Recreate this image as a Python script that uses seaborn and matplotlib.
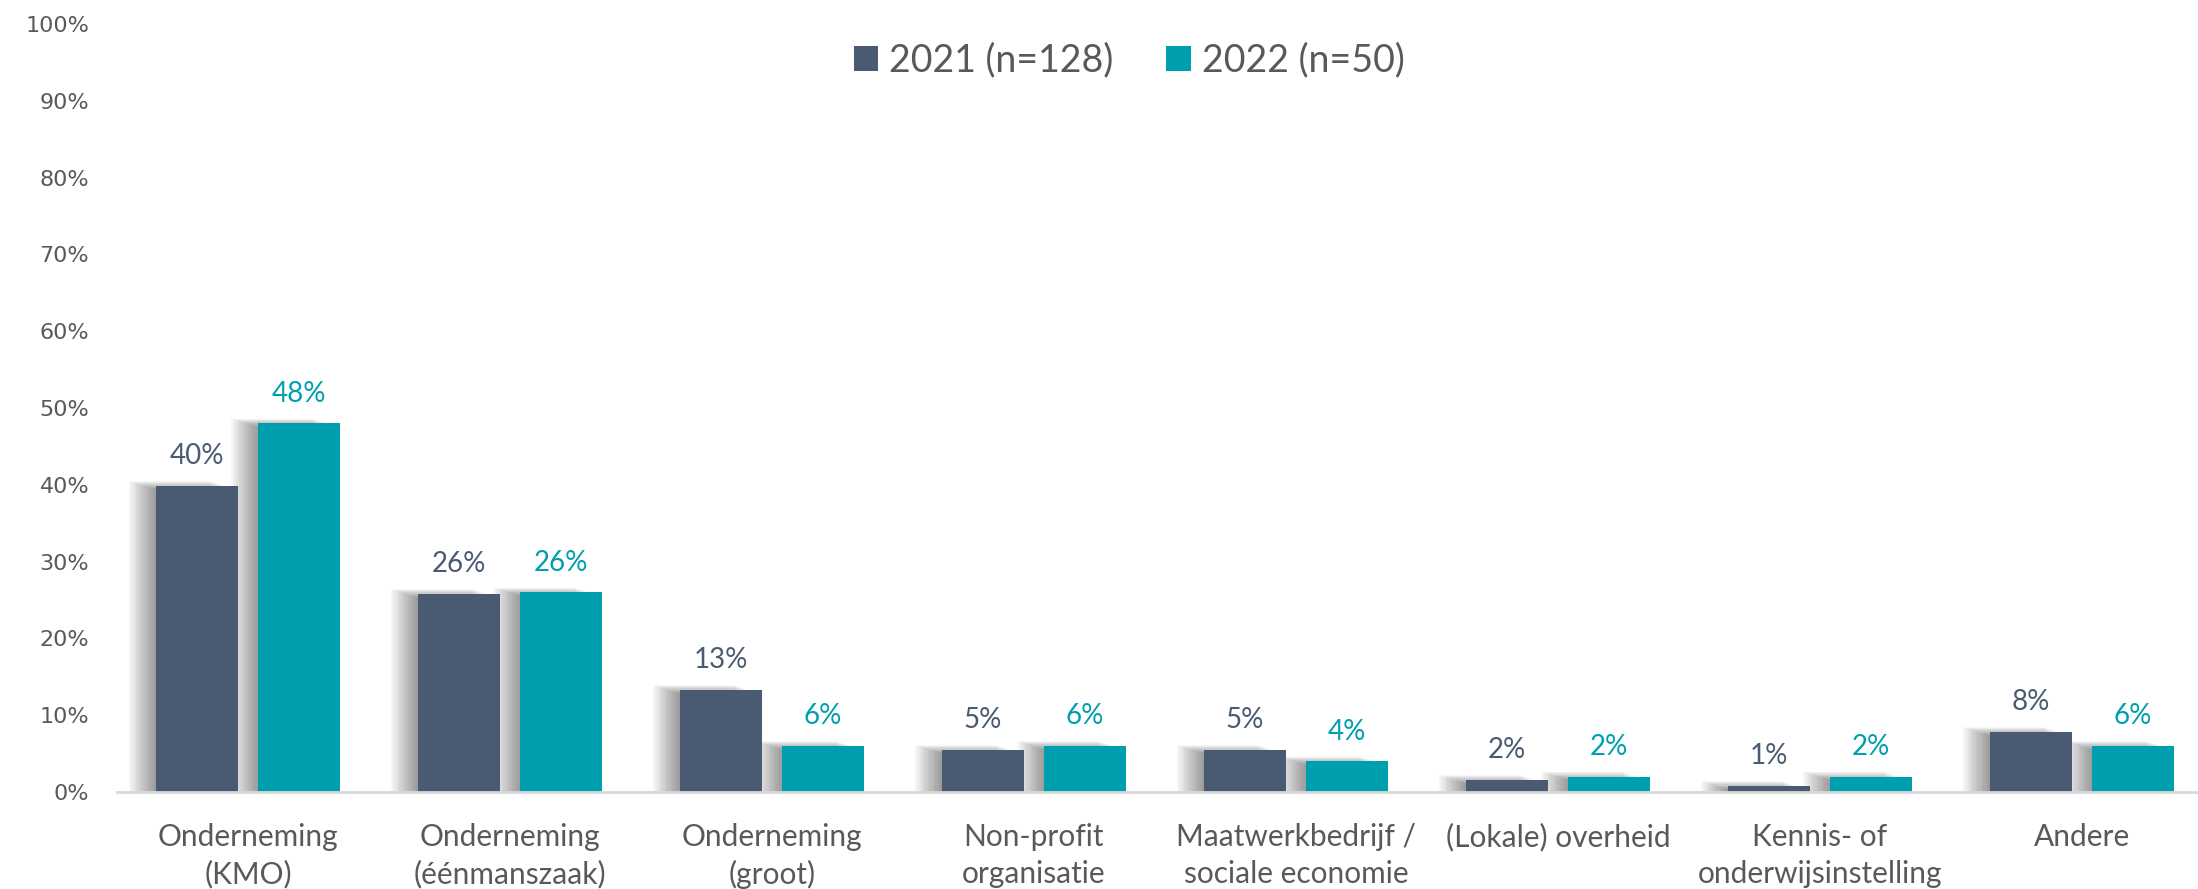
import matplotlib
matplotlib.use("Agg")
import matplotlib.pyplot as plt
from matplotlib.patches import Rectangle
from matplotlib.ticker import FuncFormatter
import seaborn as sns
import pandas as pd

# data (percentages)
categories = ["Onderneming\n(KMO)", "Onderneming\n(éénmanszaak)", "Onderneming\n(groot)",
              "Non-profit\norganisatie", "Maatwerkbedrijf /\nsociale economie",
              "(Lokale) overheid", "Kennis- of\nonderwijsinstelling", "Andere"]
pct_2021 = [39.84, 25.78, 13.28, 5.47, 5.47, 1.56, 0.78, 7.81]
pct_2022 = [48, 26, 6, 6, 4, 2, 2, 6]
series = ["2021 (n=128)", "2022 (n=50)"]
colors = ["#4A5A72", "#009FB0"]

df = pd.DataFrame({
    "cat": categories * 2,
    "pct": pct_2021 + pct_2022,
    "jaar": [series[0]] * len(categories) + [series[1]] * len(categories),
})

sns.set_style("white")
plt.rcParams["font.family"] = ["Lato", "DejaVu Sans"]

fig = plt.figure(figsize=(21.98, 8.89), dpi=100)
ax = fig.add_axes([117 / 2198, 1 - 792 / 889, 2096 / 2198, (792 - 24) / 889])

sns.barplot(data=df, x="cat", y="pct", hue="jaar", palette=colors, width=0.78, gap=0.2,
            saturation=1, ax=ax, zorder=3, legend=True, linewidth=0)

# soft shadow to the left of every bar
for p in list(ax.patches):
    if p.get_height() <= 0:
        continue
    for k in range(1, 17):
        dx = 0.0065 * k
        dy = 0.07 * k
        ax.add_patch(Rectangle((p.get_x() - dx, 0), p.get_width(), p.get_height() + dy - 0.5,
                               facecolor="black", edgecolor="none", alpha=0.026, zorder=1))

# value labels
for cont, col in zip(ax.containers, colors):
    labels = [f"{round(v.get_height())}%" for v in cont]
    ax.bar_label(cont, labels=labels, padding=12, color=col, fontsize=20)

ax.set_ylim(0, 100)
ax.set_xlim(-0.5, len(categories) - 0.5)
ax.set_yticks(range(0, 101, 10))
ax.yaxis.set_major_formatter(FuncFormatter(lambda v, _: f"{v:.0f}%"))
ax.set_xlabel("")
ax.set_ylabel("")
for s in ["top", "right", "left"]:
    ax.spines[s].set_visible(False)
ax.spines["bottom"].set_color("#D9D9D9")
ax.spines["bottom"].set_linewidth(2)
ax.spines["bottom"].set_zorder(4)
ax.tick_params(axis="both", length=0)
ax.tick_params(axis="x", pad=22, labelsize=21.5, labelcolor="#595959")
ax.tick_params(axis="y", pad=20, labelcolor="#595959")
for t in ax.get_yticklabels():
    t.set_fontfamily("DejaVu Sans")
    t.set_fontsize(16)
for t in ax.get_xticklabels():
    t.set_linespacing(1.4)

leg = ax.legend(loc="upper center", bbox_to_anchor=(0.483, 1.02), ncol=2, frameon=False,
                fontsize=27, handlelength=0.65, handleheight=0.65, handletextpad=0.3,
                columnspacing=1.4, labelcolor="#595959")

fig.savefig("out.png", dpi=100)
